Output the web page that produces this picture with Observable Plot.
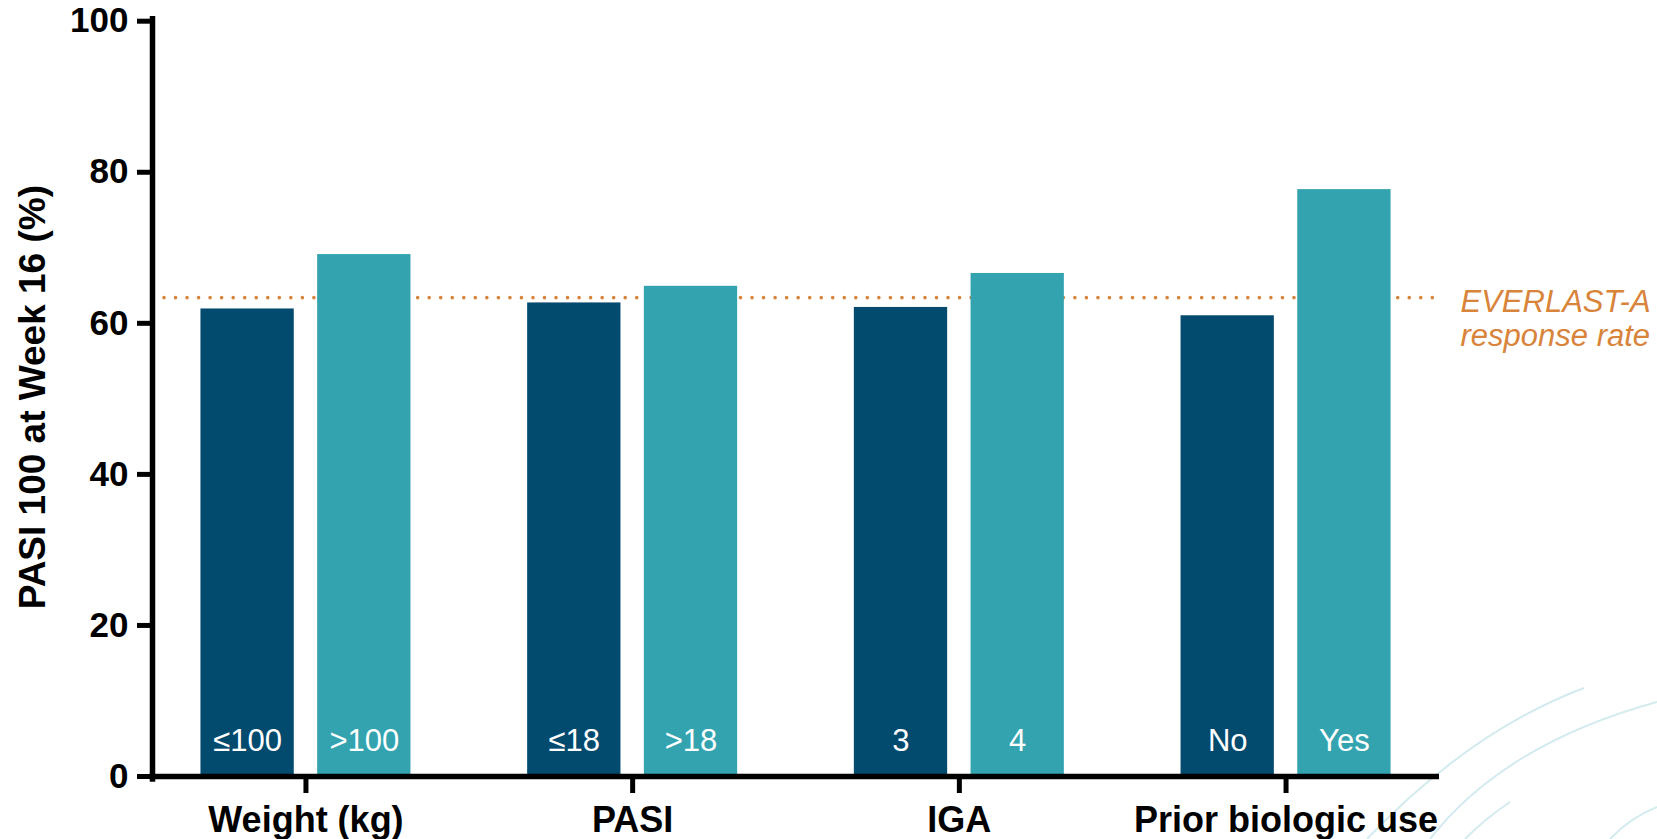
<!DOCTYPE html>
<html>
<head>
<meta charset="utf-8">
<script src="https://cdn.jsdelivr.net/npm/d3@7"></script>
<script src="https://cdn.jsdelivr.net/npm/@observablehq/plot@0.6"></script>
<style>
  html, body { margin: 0; padding: 0; background: #ffffff; overflow: hidden; }
  #wrap { position: relative; width: 1657px; height: 839px; }
  #wrap > svg { position: absolute; left: 0; top: 0; }
</style>
</head>
<body>
<div id="wrap">
  <!-- faint decorative swirl in the lower right corner -->
  <svg id="swirl" width="1657" height="839" viewBox="0 0 1657 839">
    <g fill="none" stroke="#d3ebee" stroke-width="2">
      <path d="M1584,688 Q1470,731 1367,839"/>
      <path d="M1657,702 Q1504,744 1430,839"/>
      <path d="M1510,802 Q1486,818 1465,839"/>
      <path d="M1657,807 Q1630,818 1610,839"/>
    </g>
  </svg>
</div>
<script>
// Subgroups of patients and their PASI 100 response at week 16 (%)
const groups = ["Weight (kg)", "PASI", "IGA", "Prior biologic use"];
const lowLabels = ["≤100", "≤18", "3", "No"];
const highLabels = [">100", ">18", "4", "Yes"];
const lowValues = [61.9, 62.7, 62.1, 61.0];
const highValues = [69.1, 64.9, 66.6, 77.7];

// Overall trial response used as the reference line
const referenceRate = 63.4;
const referenceLabel = "EVERLAST-A\nresponse rate";

const yTicks = [0, 20, 40, 60, 80, 100];
const yTitle = "PASI 100 at Week 16 (%)";

const navy = "#034a6f";
const teal = "#33a3b0";
const orange = "#d8843a";

const lowRows = groups.map((g, i) => ({group: g, label: lowLabels[i], value: lowValues[i]}));
const highRows = groups.map((g, i) => ({group: g, label: highLabels[i], value: highValues[i]}));

// each category band holds a pair of bars placed by inset within the band
const pairOffset = 58.35;
const innerInset = 58.35;
const outerInset = 175.05;

const chart = Plot.plot({
  width: 1657,
  height: 839,
  marginLeft: 152,
  marginRight: 218,
  marginTop: 20.7,
  marginBottom: 63,
  style: {
    fontFamily: "Arial, 'Liberation Sans', sans-serif",
    background: "transparent",
    color: "#000000",
    overflow: "visible"
  },
  x: {type: "band", domain: groups, paddingInner: 0, paddingOuter: -0.0303, round: false},
  y: {domain: [0, 100]},
  marks: [
    Plot.ruleY([referenceRate], {
      stroke: orange, strokeWidth: 3.6, strokeDasharray: "0 11.53",
      strokeLinecap: "round", insetLeft: 12, insetRight: 6
    }),
    Plot.barY(lowRows, {x: "group", y: "value", fill: navy, insetLeft: innerInset, insetRight: outerInset}),
    Plot.barY(highRows, {x: "group", y: "value", fill: teal, insetLeft: outerInset, insetRight: innerInset}),
    Plot.text(lowRows, {
      x: "group", y: () => 0, text: "label", dx: -pairOffset, dy: -26,
      lineAnchor: "bottom", fill: "white", fontSize: 31
    }),
    Plot.text(highRows, {
      x: "group", y: () => 0, text: "label", dx: pairOffset, dy: -26,
      lineAnchor: "bottom", fill: "white", fontSize: 31
    }),
    Plot.axisY({
      ticks: yTicks, tickSize: 15, tickPadding: 9, strokeWidth: 5,
      fontSize: 35, fontWeight: "bold", label: null
    }),
    Plot.axisX({
      tickSize: 17, tickPadding: 13, strokeWidth: 5,
      fontSize: 36, fontWeight: "bold", label: null
    }),
    Plot.ruleY([0], {strokeWidth: 5.5, insetLeft: -2.75}),
    Plot.frame({anchor: "left", strokeWidth: 5.5, insetTop: -2.5, insetBottom: -2.5}),
    Plot.text([yTitle], {
      text: d => d, frameAnchor: "left", rotate: -90, dx: -119, dy: -1.7,
      textAnchor: "middle", lineAnchor: "middle",
      fontSize: 37, fontWeight: "bold"
    }),
    Plot.text([{label: referenceLabel, value: referenceRate}], {
      text: "label", y: "value", frameAnchor: "right", dx: 21, dy: -10,
      textAnchor: "start", lineAnchor: "top", lineHeight: 1.097,
      fill: orange, fontSize: 31, fontStyle: "italic"
    })
  ]
});

document.getElementById("wrap").appendChild(chart);
</script>
</body>
</html>
